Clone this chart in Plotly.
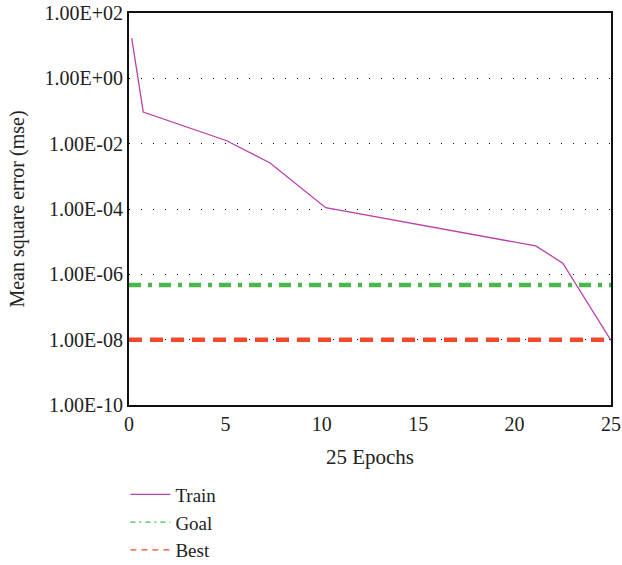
import plotly.graph_objects as go

epochs = [0.14, 0.74, 5.07, 7.3, 10.2, 21.1, 22.5, 25]
train_mse = [17, 0.093, 0.0123, 0.0026, 1.1e-4, 7.4e-6, 2.2e-6, 9.5e-9]
goal_x = [0, 25]
goal_mse = [4.7e-7, 4.7e-7]
best_x = [0, 25]
best_mse = [1e-8, 1e-8]
y_tickvals = [1e2, 1e0, 1e-2, 1e-4, 1e-6, 1e-8, 1e-10]
y_ticktext = ["1.00E+02", "1.00E+00", "1.00E-02", "1.00E-04", "1.00E-06", "1.00E-08", "1.00E-10"]
x_tickvals = [0, 5, 10, 15, 20, 25]

TRAIN_C = "#BB40AA"
GOAL_C = "#4AB74A"
BEST_C = "#F04A2A"
FONT = "Liberation Serif"

fig = go.Figure()
fig.add_trace(go.Scatter(x=goal_x, y=goal_mse, mode="lines", showlegend=False,
                         line=dict(color=GOAL_C, width=4.5, dash="12px,7px,4px,7px")))
fig.add_trace(go.Scatter(x=best_x, y=best_mse, mode="lines", showlegend=False,
                         line=dict(color=BEST_C, width=4.5, dash="13px,8px")))
fig.add_trace(go.Scatter(x=epochs, y=train_mse, mode="lines", showlegend=False,
                         line=dict(color=TRAIN_C, width=1.3)))
# legend entries (thin symbols)
fig.add_trace(go.Scatter(x=[None], y=[None], mode="lines", name="Train",
                         line=dict(color=TRAIN_C, width=1.3)))
fig.add_trace(go.Scatter(x=[None], y=[None], mode="lines", name="Goal",
                         line=dict(color=GOAL_C, width=1.3, dash="5px,4px,2px,4px")))
fig.add_trace(go.Scatter(x=[None], y=[None], mode="lines", name="Best",
                         line=dict(color=BEST_C, width=1.3, dash="6px,5px")))

fig.update_layout(
    width=622, height=565,
    margin=dict(l=129, r=11, t=13, b=160, autoexpand=False),
    paper_bgcolor="white", plot_bgcolor="white",
    font=dict(family=FONT, size=20, color="#222"),
    legend=dict(x=-0.0075, y=-0.18, xanchor="left", yanchor="top",
                font=dict(family=FONT, size=19, color="#222"),
                bgcolor="rgba(0,0,0,0)", tracegroupgap=0, itemwidth=40),
    xaxis=dict(range=[0, 25], tickvals=x_tickvals, showgrid=False,
               showline=True, linecolor="#111", linewidth=2, mirror=True,
               ticks="", zeroline=False, automargin=False,
               title=dict(text="25 Epochs", font=dict(size=21)),
               tickfont=dict(size=20)),
    yaxis=dict(type="log", range=[-10, 2], tickvals=y_tickvals, ticktext=y_ticktext,
               showgrid=True, gridcolor="#111", gridwidth=1, griddash="1px,11px",
               showline=True, linecolor="#111", linewidth=2, mirror=True,
               ticks="", zeroline=False, automargin=False,
               title=dict(text="Mean square error (mse)", font=dict(size=20)),
               tickfont=dict(size=20)),
)

fig.write_html("out.html", config={"displayModeBar": False},
               post_script="document.body.style.margin='0px';")
